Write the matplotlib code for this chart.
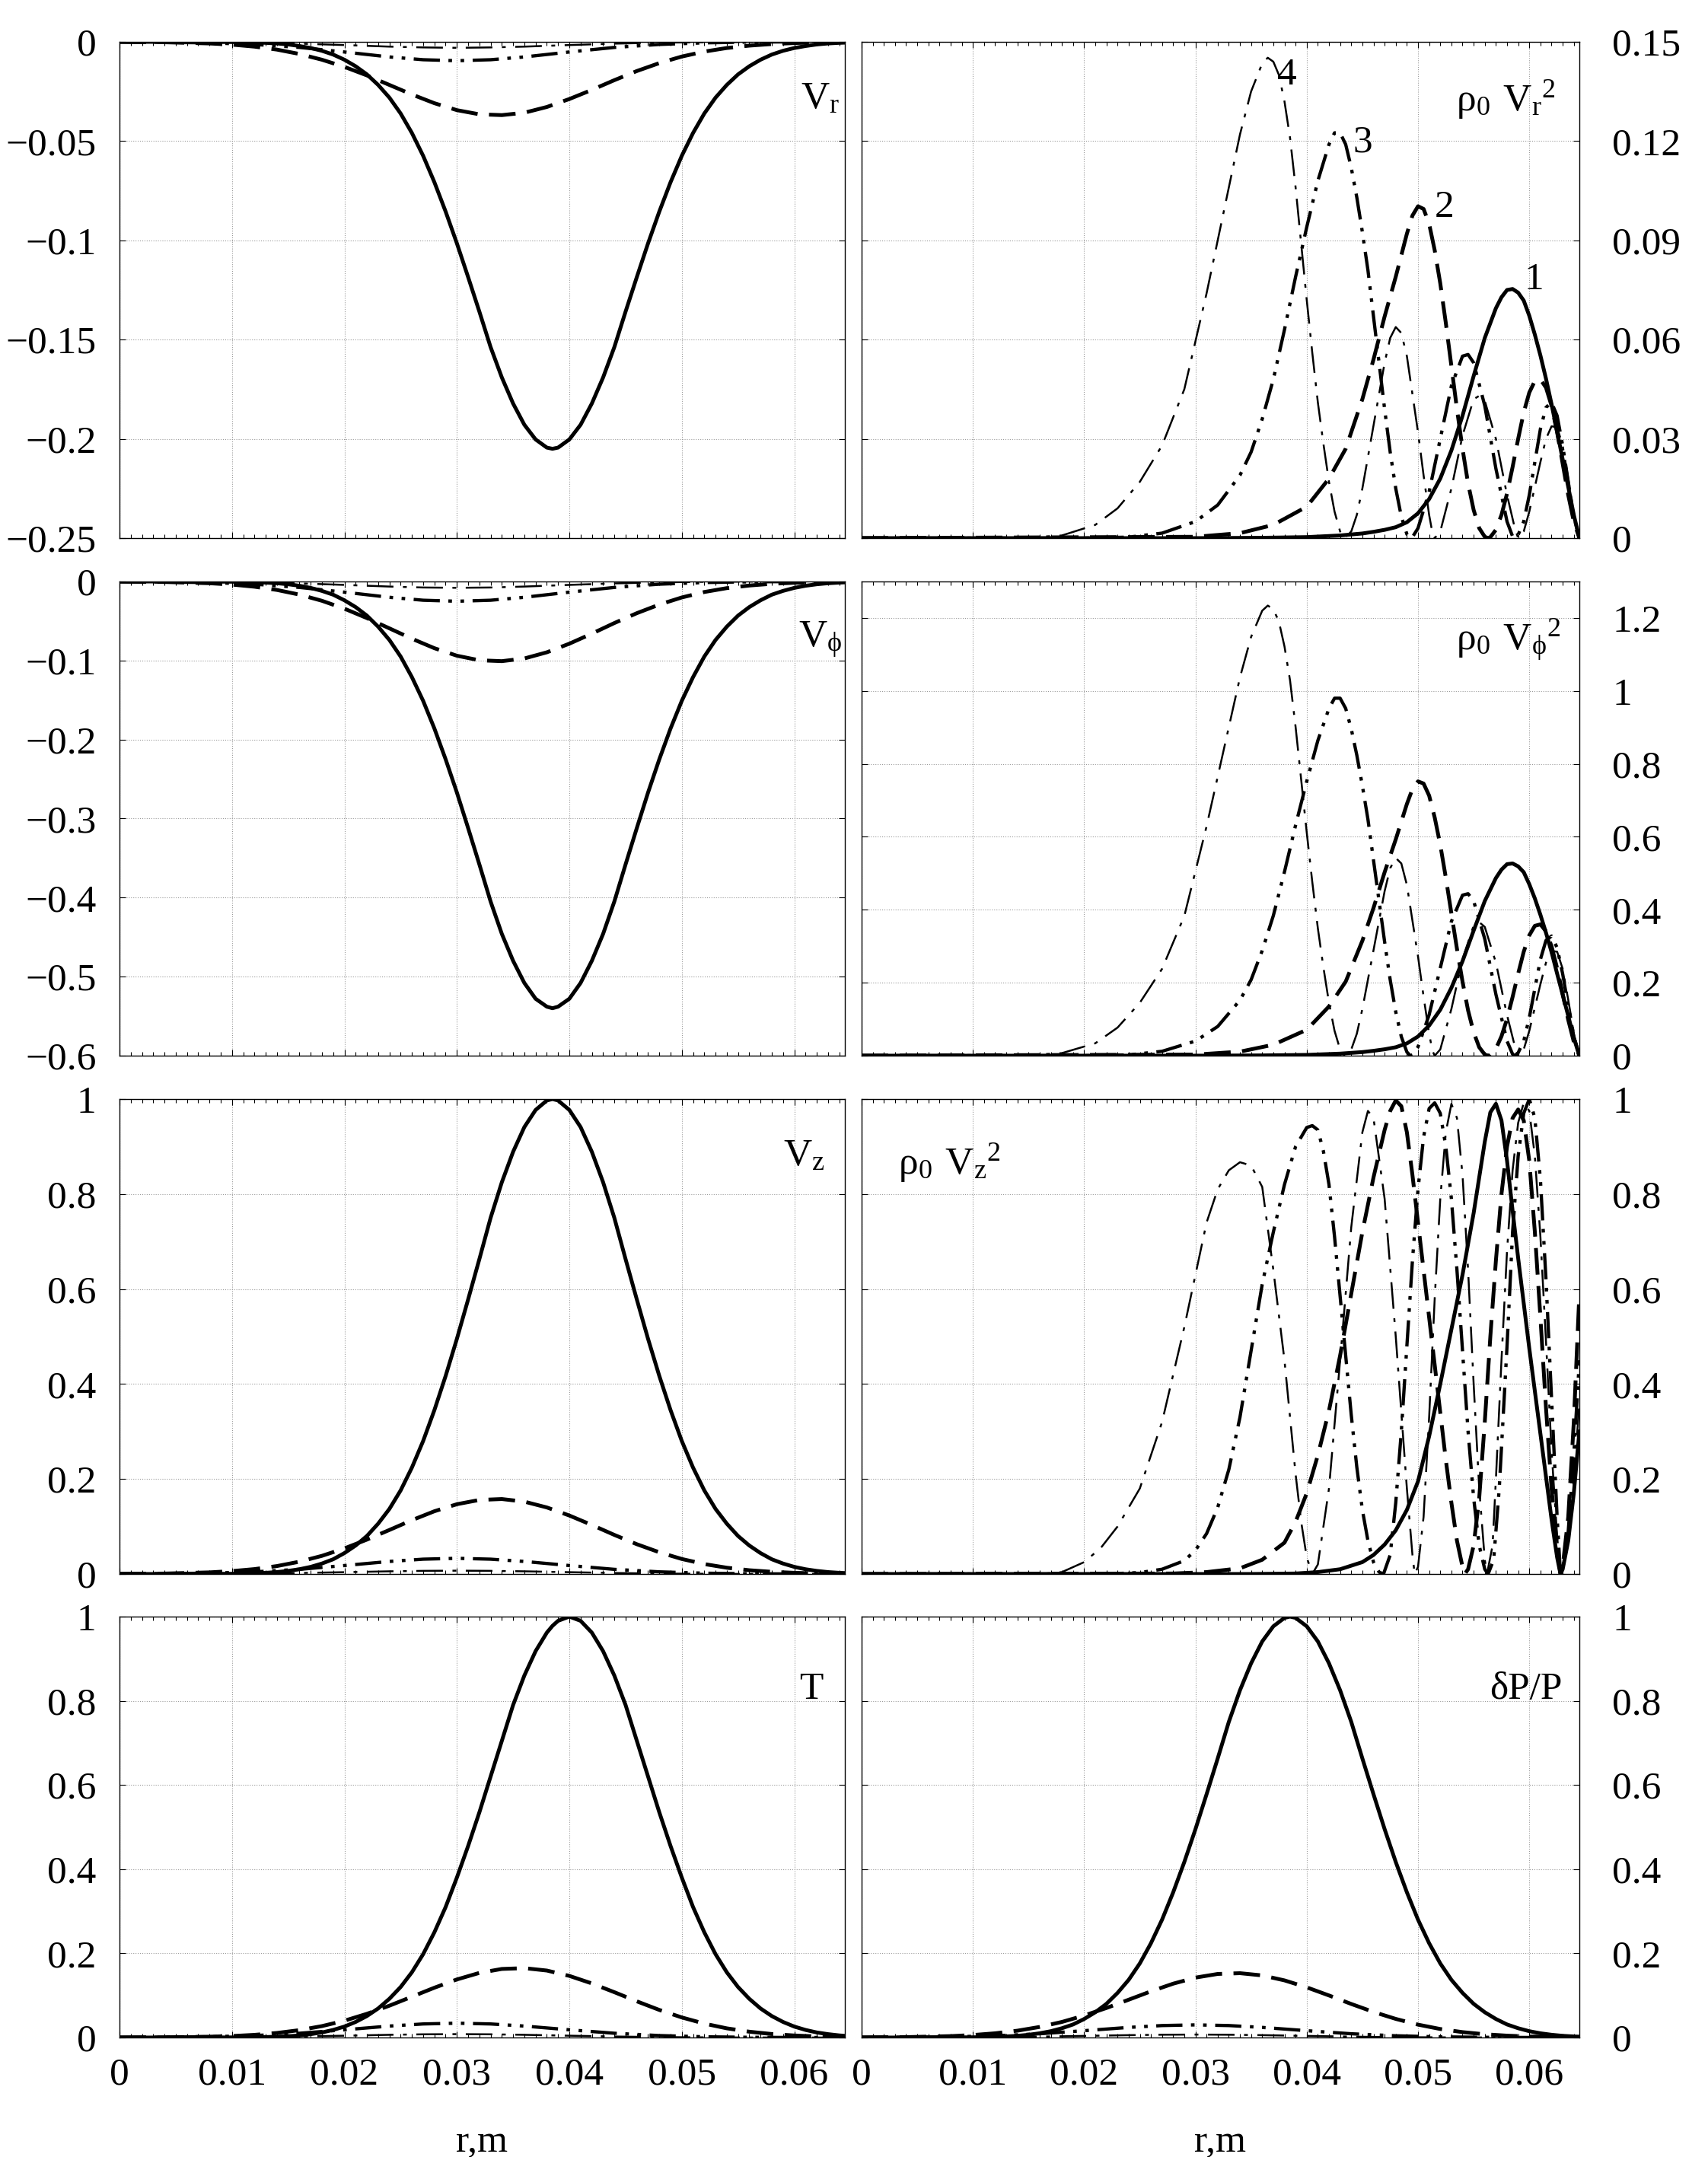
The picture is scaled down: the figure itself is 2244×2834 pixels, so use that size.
import matplotlib
matplotlib.use("Agg")
import matplotlib.pyplot as plt
from matplotlib.ticker import MultipleLocator, FixedLocator, FuncFormatter

plt.rcParams['font.family'] = ['Liberation Serif', 'DejaVu Serif']
plt.rcParams['mathtext.default'] = 'regular'

# ---------------- data: left column (and dP/P) ----------------
R_FINE = [0.0, 0.005, 0.010, 0.011, 0.012, 0.013, 0.014, 0.015, 0.016, 0.017, 0.018, 0.019,
          0.020, 0.021, 0.022, 0.023, 0.024, 0.025, 0.026, 0.027, 0.028, 0.029, 0.030, 0.031,
          0.032, 0.033, 0.034, 0.035, 0.036, 0.037, 0.038, 0.0385, 0.039, 0.040, 0.041, 0.042,
          0.043, 0.044, 0.045, 0.046, 0.047, 0.048, 0.049, 0.050, 0.051, 0.052, 0.053, 0.054,
          0.055, 0.056, 0.057, 0.058, 0.059, 0.060, 0.061, 0.062, 0.063, 0.064, 0.0645]

VR_1 = [0, 0, -0.0001, -0.0002, -0.0003, -0.0005, -0.0008, -0.0013, -0.0021, -0.0031, -0.0045,
        -0.0064, -0.0090, -0.0123, -0.0164, -0.0217, -0.0281, -0.0361, -0.0459, -0.0574, -0.0707,
        -0.0855, -0.1015, -0.1185, -0.1359, -0.1538, -0.1691, -0.1822, -0.1929, -0.2003, -0.2044,
        -0.2050,
        -0.2044, -0.2003, -0.1929, -0.1822, -0.1691, -0.1538, -0.1359, -0.1185, -0.1015, -0.0855,
        -0.0707, -0.0574, -0.0459, -0.0361, -0.0281, -0.0217, -0.0164, -0.0123, -0.0090, -0.0064,
        -0.0045, -0.0031, -0.0021, -0.0013, -0.0008, -0.0005, -0.0004]
VPHI_1 = [0, 0, -0.0003, -0.0004, -0.0008, -0.0014, -0.0022, -0.0035, -0.0054, -0.0081, -0.0119,
          -0.0167, -0.0238, -0.0324, -0.0432, -0.0572, -0.0740, -0.0950, -0.121, -0.151, -0.186,
          -0.225, -0.267, -0.312, -0.358, -0.405, -0.446, -0.480, -0.508, -0.528, -0.538,
          -0.540,
          -0.538, -0.528, -0.508, -0.480, -0.446, -0.405, -0.358, -0.312, -0.267, -0.225,
          -0.186, -0.151, -0.121, -0.0950, -0.0740, -0.0572, -0.0432, -0.0324, -0.0238, -0.0167,
          -0.0119, -0.0081, -0.0054, -0.0035, -0.0022, -0.0014, -0.0011]
VZ_1 = [0, 0, 0.0005, 0.0008, 0.0015, 0.0025, 0.004, 0.0065, 0.010, 0.015, 0.022, 0.031,
        0.044, 0.060, 0.080, 0.106, 0.137, 0.176, 0.224, 0.280, 0.345, 0.417, 0.495, 0.578,
        0.663, 0.750, 0.825, 0.889, 0.941, 0.977, 0.997,
        1.0,
        0.997, 0.977, 0.941, 0.889, 0.825, 0.750, 0.663, 0.578, 0.495, 0.417, 0.345, 0.280,
        0.224, 0.176, 0.137, 0.106, 0.080, 0.060, 0.044, 0.031, 0.022, 0.015, 0.010, 0.0065,
        0.004, 0.0025, 0.002]
T_1 = [0, 0, 0.0003, 0.0005, 0.0008, 0.001, 0.002, 0.003, 0.005, 0.008, 0.012, 0.018,
       0.026, 0.037, 0.051, 0.069, 0.092, 0.120, 0.155, 0.198, 0.250, 0.310, 0.380, 0.455,
       0.535, 0.620, 0.705, 0.790, 0.860, 0.918, 0.962,
       0.978,
       0.990, 1.0, 0.990, 0.962, 0.918, 0.860, 0.790, 0.705, 0.620, 0.535, 0.455, 0.380,
       0.310, 0.250, 0.198, 0.155, 0.120, 0.092, 0.069, 0.051, 0.037, 0.026, 0.018, 0.012,
       0.008, 0.005, 0.004]
DP_1 = [0, 0, 0.0005, 0.0008, 0.0015, 0.0025, 0.004, 0.0065, 0.010, 0.015, 0.022, 0.031,
        0.044, 0.060, 0.080, 0.106, 0.137, 0.176, 0.224, 0.280, 0.345, 0.417, 0.495, 0.578,
        0.663, 0.750, 0.825, 0.889, 0.941, 0.977, 0.997,
        1.0,
        0.997, 0.977, 0.941, 0.889, 0.825, 0.750, 0.663, 0.578, 0.495, 0.417, 0.345, 0.280,
        0.224, 0.176, 0.137, 0.106, 0.080, 0.060, 0.044, 0.031, 0.022, 0.015, 0.010, 0.0065,
        0.004, 0.0025, 0.002]

R_C = [0.0, 0.004, 0.008, 0.010, 0.012, 0.014, 0.016, 0.018, 0.020, 0.022, 0.024, 0.026, 0.028,
       0.030, 0.032, 0.034, 0.036, 0.038, 0.040, 0.042, 0.044, 0.046, 0.048, 0.050, 0.052, 0.054,
       0.056, 0.058, 0.060, 0.062, 0.064, 0.0645]
VR_2 = [-0.0000, -0.0002, -0.0008, -0.0014, -0.0024, -0.0039, -0.0061, -0.0090, -0.0126, -0.0169,
        -0.0217, -0.0265, -0.0309, -0.0344, -0.0365, -0.0369, -0.0357, -0.0328, -0.0288, -0.0242,
        -0.0193, -0.0147, -0.0107, -0.0074, -0.0049, -0.0031, -0.0019, -0.0011, -0.0006, -0.0003,
        -0.0002, -0.0001]
VPHI_2 = [-0.0001, -0.0006, -0.0022, -0.0039, -0.0066, -0.0107, -0.0166, -0.0244, -0.0344, -0.0463,
          -0.0593, -0.0724, -0.0844, -0.0939, -0.0997, -0.1008, -0.0974, -0.0896, -0.0787, -0.0660,
          -0.0526, -0.0401, -0.0292, -0.0202, -0.0133, -0.0084, -0.0051, -0.0029, -0.0016, -0.0008,
          -0.0004, -0.0003]
VZ_2 = [0.0002, 0.0009, 0.0034, 0.0061, 0.0103, 0.0167, 0.0259, 0.0382, 0.0539, 0.0724, 0.0927,
        0.1133, 0.1321, 0.1469, 0.1559, 0.1578, 0.1523, 0.1401, 0.1231, 0.1032, 0.0823, 0.0627,
        0.0457, 0.0316, 0.0209, 0.0132, 0.0079, 0.0046, 0.0025, 0.0013, 0.0006, 0.0005]
T_2 = [0.0001, 0.0005, 0.0019, 0.0035, 0.0063, 0.0108, 0.0175, 0.0271, 0.0399, 0.0563, 0.0756,
       0.0969, 0.1183, 0.1379, 0.1535, 0.1629, 0.1648, 0.1591, 0.1464, 0.1285, 0.1077, 0.0860,
       0.0655, 0.0477, 0.0330, 0.0218, 0.0138, 0.0083, 0.0048, 0.0026, 0.0014, 0.0011]
DP_2 = [0.0002, 0.0009, 0.0033, 0.0059, 0.0100, 0.0162, 0.0251, 0.0370, 0.0522, 0.0701, 0.0898,
        0.1097, 0.1279, 0.1423, 0.1510, 0.1528, 0.1475, 0.1357, 0.1192, 0.0999, 0.0797, 0.0607,
        0.0442, 0.0306, 0.0202, 0.0128, 0.0077, 0.0044, 0.0024, 0.0013, 0.0006, 0.0005]

R_S = [0.0, 0.008, 0.012, 0.016, 0.020, 0.024, 0.027, 0.030, 0.033, 0.036, 0.040, 0.044, 0.048,
       0.052, 0.056, 0.060, 0.0645]
VR_3 = [0.0, -0.0005, -0.0013, -0.0028, -0.0051, -0.0076, -0.0090, -0.0095, -0.0090, -0.0076,
        -0.0051, -0.0028, -0.0013, -0.0005, -0.0001, 0.0, 0.0]
VPHI_3 = [-0.0001, -0.0013, -0.0034, -0.0075, -0.0135, -0.0200, -0.0237, -0.0250, -0.0237, -0.0200,
          -0.0135, -0.0075, -0.0034, -0.0013, -0.0004, -0.0001, 0.0]
VZ_3 = [0.0001, 0.0017, 0.0045, 0.0098, 0.0178, 0.0264, 0.0312, 0.0330, 0.0312, 0.0264, 0.0178,
        0.0098, 0.0045, 0.0017, 0.0005, 0.0001, 0.0]
T_3 = [0.0001, 0.0017, 0.0046, 0.0101, 0.0183, 0.0272, 0.0322, 0.0340, 0.0322, 0.0272, 0.0183,
       0.0101, 0.0046, 0.0017, 0.0005, 0.0001, 0.0]
DP_3 = [0.0001, 0.0015, 0.0041, 0.0089, 0.0162, 0.0240, 0.0284, 0.0300, 0.0284, 0.0240, 0.0162,
        0.0089, 0.0041, 0.0015, 0.0005, 0.0001, 0.0]
VR_4 = [0.0, -0.0002, -0.0004, -0.0009, -0.0016, -0.0024, -0.0028, -0.0030, -0.0028, -0.0024,
        -0.0016, -0.0009, -0.0004, -0.0002, 0.0, 0.0, 0.0]
VPHI_4 = [0.0, -0.0004, -0.0011, -0.0024, -0.0043, -0.0064, -0.0076, -0.0080, -0.0076, -0.0064,
          -0.0043, -0.0024, -0.0011, -0.0004, -0.0001, 0.0, 0.0]
VZ_4 = [0.0, 0.0004, 0.0009, 0.0021, 0.0038, 0.0056, 0.0066, 0.0070, 0.0066, 0.0056, 0.0038,
        0.0021, 0.0009, 0.0004, 0.0001, 0.0, 0.0]
T_4 = [0.0, 0.0004, 0.0011, 0.0024, 0.0043, 0.0064, 0.0076, 0.0080, 0.0076, 0.0064, 0.0043,
       0.0024, 0.0011, 0.0004, 0.0001, 0.0, 0.0]
DP_4 = [0.0, 0.0004, 0.0009, 0.0021, 0.0038, 0.0056, 0.0066, 0.0070, 0.0066, 0.0056, 0.0038,
        0.0021, 0.0009, 0.0004, 0.0001, 0.0, 0.0]

# ---------------- data: rho0 Vr^2 and rho0 Vphi^2 ----------------
R_M1 = [0, 0.030, 0.036, 0.040, 0.043, 0.045, 0.046, 0.047, 0.048, 0.049, 0.050, 0.051, 0.052,
        0.053, 0.054, 0.055, 0.056, 0.057, 0.0575, 0.058, 0.0585, 0.059, 0.0595, 0.060, 0.0605,
        0.061, 0.0615, 0.062, 0.0625, 0.063, 0.0635, 0.064, 0.0645]
RVR_1 = [0, 0, 0.0001, 0.0003, 0.0008, 0.0014, 0.0019, 0.0025, 0.0033, 0.0048, 0.0075, 0.0118,
         0.0180, 0.0265, 0.0370, 0.0490, 0.0605, 0.0695, 0.0728, 0.0750, 0.0753, 0.0742, 0.0718,
         0.0672, 0.0615, 0.0552, 0.0482, 0.0405, 0.0322, 0.0238, 0.0155, 0.0070, 0.0]
RVPHI_1 = [0, 0, 0.0007, 0.0021, 0.0056, 0.0098, 0.0133, 0.0175, 0.0231, 0.0336, 0.0525, 0.0826,
           0.126, 0.186, 0.259, 0.343, 0.424, 0.487, 0.510, 0.525, 0.527, 0.519, 0.503, 0.470,
           0.431, 0.386, 0.337, 0.284, 0.225, 0.167, 0.109, 0.049, 0.0]

R_M2 = [0, 0.030, 0.034, 0.037, 0.040, 0.042, 0.0435, 0.045, 0.046, 0.047, 0.048, 0.049, 0.0495,
        0.050, 0.0505, 0.051, 0.0515, 0.052, 0.0525, 0.053, 0.0535, 0.054, 0.0545, 0.055, 0.0555,
        0.056, 0.0563, 0.0565, 0.057, 0.0575, 0.058, 0.0585, 0.059, 0.0595, 0.060, 0.0605, 0.061,
        0.0615, 0.062, 0.0625, 0.063, 0.0635, 0.064, 0.0645]
RVR_2 = [0, 0.0004, 0.0015, 0.0040, 0.0095, 0.0180, 0.0270, 0.0420, 0.0540, 0.0670, 0.0790,
         0.0920, 0.0975, 0.1003, 0.0995, 0.0950, 0.0870, 0.0770, 0.0650, 0.0520, 0.0390, 0.0270,
         0.0165, 0.0085, 0.0030, 0.0004, 0.0, 0.0003, 0.0025, 0.0070, 0.0135, 0.0215, 0.0300,
         0.0380, 0.0440, 0.0475, 0.0480, 0.0455, 0.0400, 0.0320, 0.0225, 0.0130, 0.0050, 0.0]
RVPHI_2 = [0, 0.003, 0.011, 0.030, 0.071, 0.135, 0.203, 0.315, 0.405, 0.503, 0.593, 0.690, 0.731,
           0.752, 0.746, 0.713, 0.653, 0.578, 0.488, 0.390, 0.293, 0.203, 0.124, 0.064, 0.023,
           0.003, 0.0, 0.002, 0.019, 0.053, 0.101, 0.161, 0.225, 0.285, 0.330, 0.356, 0.360,
           0.341, 0.300, 0.240, 0.169, 0.098, 0.038, 0.0]

R_M3 = [0, 0.020, 0.024, 0.027, 0.030, 0.032, 0.034, 0.035, 0.036, 0.037, 0.038, 0.039, 0.040,
        0.041, 0.042, 0.0425, 0.043, 0.0435, 0.044, 0.0445, 0.045, 0.0455, 0.046, 0.0465, 0.047,
        0.0475, 0.048, 0.0485, 0.049, 0.0493, 0.0495, 0.050, 0.051, 0.052, 0.053, 0.054, 0.0545,
        0.055, 0.056, 0.057, 0.058, 0.0585, 0.0587, 0.059, 0.0595, 0.060, 0.0605, 0.061, 0.0615,
        0.062, 0.0625, 0.063, 0.0635, 0.064, 0.0645]
RVR_3 = [0, 0, 0.0003, 0.0015, 0.0050, 0.0100, 0.0190, 0.0260, 0.0360, 0.0480, 0.0630, 0.0790,
         0.0940, 0.1080, 0.1190, 0.1225, 0.1225, 0.1190, 0.1120, 0.1030, 0.0925, 0.0810, 0.0670,
         0.0530, 0.0390, 0.0260, 0.0150, 0.0065, 0.0012, 0.0, 0.0003, 0.0030, 0.0140, 0.0300,
         0.0460, 0.0550, 0.0555, 0.0530, 0.0400, 0.0210, 0.0050, 0.0005, 0.0, 0.0010, 0.0050,
         0.0130, 0.0230, 0.0330, 0.0395, 0.0410, 0.0370, 0.0280, 0.0170, 0.0065, 0.0]
RVPHI_3 = [0, 0, 0.002, 0.012, 0.040, 0.080, 0.152, 0.208, 0.288, 0.384, 0.504, 0.632, 0.752,
           0.864, 0.952, 0.980, 0.980, 0.952, 0.896, 0.824, 0.740, 0.648, 0.536, 0.424, 0.312,
           0.208, 0.120, 0.052, 0.010, 0.0, 0.002, 0.024, 0.112, 0.240, 0.368, 0.440, 0.444,
           0.424, 0.320, 0.168, 0.040, 0.004, 0.0, 0.008, 0.040, 0.104, 0.184, 0.264, 0.316,
           0.328, 0.296, 0.224, 0.136, 0.052, 0.0]

R_M4 = [0, 0.014, 0.018, 0.021, 0.023, 0.025, 0.027, 0.029, 0.031, 0.032, 0.033, 0.034, 0.035,
        0.036, 0.0365, 0.037, 0.0375, 0.038, 0.0385, 0.039, 0.0395, 0.040, 0.0405, 0.041, 0.0415,
        0.042, 0.0425, 0.043, 0.0434, 0.044, 0.0445, 0.045, 0.046, 0.047, 0.0475, 0.048, 0.0485,
        0.049, 0.050, 0.0505, 0.051, 0.0513, 0.0515, 0.052, 0.053, 0.054, 0.055, 0.0555, 0.056,
        0.057, 0.058, 0.0587, 0.059, 0.0595, 0.060, 0.061, 0.0615, 0.062, 0.0625, 0.063, 0.0635,
        0.064, 0.0645]
RVR_4 = [0, 0, 0.0008, 0.0040, 0.0090, 0.0170, 0.0280, 0.0450, 0.0740, 0.0900, 0.1060, 0.1220,
         0.1350, 0.1435, 0.1452, 0.1440, 0.1400, 0.1320, 0.1210, 0.1060, 0.0890, 0.0720, 0.0560,
         0.0410, 0.0285, 0.0170, 0.0080, 0.0020, 0.0, 0.0020, 0.0070, 0.0150, 0.0340, 0.0530,
         0.0605, 0.0638, 0.0620, 0.0550, 0.0320, 0.0190, 0.0070, 0.0015, 0.0, 0.0020, 0.0150,
         0.0310, 0.0420, 0.0430, 0.0415, 0.0300, 0.0130, 0.0030, 0.0, 0.0020, 0.0080, 0.0230,
         0.0300, 0.0338, 0.0335, 0.0280, 0.0180, 0.0075, 0.0]
RVPHI_4 = [0, 0, 0.007, 0.034, 0.077, 0.145, 0.238, 0.383, 0.629, 0.765, 0.901, 1.037, 1.148,
           1.220, 1.234, 1.224, 1.190, 1.122, 1.029, 0.901, 0.757, 0.612, 0.476, 0.349, 0.242,
           0.145, 0.068, 0.017, 0.0, 0.017, 0.060, 0.128, 0.289, 0.451, 0.514, 0.542, 0.527,
           0.468, 0.272, 0.162, 0.060, 0.013, 0.0, 0.017, 0.128, 0.264, 0.357, 0.366, 0.353,
           0.255, 0.111, 0.026, 0.0, 0.017, 0.068, 0.196, 0.255, 0.287, 0.285, 0.238, 0.153,
           0.064, 0.0]

# ---------------- data: rho0 Vz^2 ----------------
RZ_M1 = [0, 0.035, 0.039, 0.041, 0.043, 0.045, 0.046, 0.047, 0.048, 0.049, 0.050, 0.051, 0.052,
         0.053, 0.054, 0.055, 0.0555, 0.056, 0.0565, 0.057, 0.0575, 0.058, 0.0585, 0.059, 0.0595,
         0.060, 0.0605, 0.061, 0.0615, 0.062, 0.0625, 0.0628, 0.063, 0.0635, 0.064, 0.0645]
RVZ_1 = [0, 0, 0.001, 0.004, 0.010, 0.025, 0.040, 0.062, 0.092, 0.135, 0.195, 0.290, 0.400, 0.515,
         0.630, 0.760, 0.835, 0.910, 0.972, 0.990, 0.955, 0.870, 0.765, 0.665, 0.570, 0.475,
         0.385, 0.295, 0.205, 0.115, 0.035, 0.0, 0.010, 0.070, 0.170, 0.300]
RZ_M2 = [0.0, 0.028, 0.031, 0.034, 0.036, 0.038, 0.039, 0.040, 0.041, 0.042, 0.043, 0.044, 0.045,
         0.046, 0.047, 0.0475, 0.048, 0.0485, 0.049, 0.0495, 0.050, 0.0505, 0.051, 0.0515, 0.052,
         0.0525, 0.053, 0.0535, 0.054, 0.0542, 0.0545, 0.055, 0.0555, 0.056, 0.0565, 0.057,
         0.0575, 0.058, 0.0585, 0.059, 0.0595, 0.060, 0.0605, 0.061, 0.0615, 0.062, 0.0625,
         0.0628, 0.063, 0.0635, 0.064, 0.0645]
RVZ_2 = [0.0, 0.001, 0.004, 0.012, 0.030, 0.066, 0.110, 0.170, 0.250, 0.344, 0.460, 0.590, 0.720,
         0.835, 0.935, 0.975, 0.997, 0.985, 0.930, 0.840, 0.740, 0.640, 0.540, 0.440, 0.340,
         0.240, 0.150, 0.070, 0.015, 0.0, 0.010, 0.060, 0.160, 0.320, 0.500, 0.660, 0.800,
         0.900, 0.960, 0.978, 0.955, 0.870, 0.720, 0.540, 0.350, 0.180, 0.055, 0.0, 0.015,
         0.120, 0.320, 0.590]
RZ_M3 = [0.0, 0.022, 0.025, 0.027, 0.029, 0.030, 0.031, 0.032, 0.033, 0.034, 0.035, 0.036, 0.037,
         0.038, 0.039, 0.040, 0.0405, 0.041, 0.0415, 0.042, 0.0425, 0.043, 0.0435, 0.044, 0.0445,
         0.045, 0.0455, 0.046, 0.0465, 0.0469, 0.0475, 0.048, 0.0485, 0.049, 0.0495, 0.050,
         0.0505, 0.051, 0.0515, 0.052, 0.0525, 0.053, 0.0535, 0.054, 0.0545, 0.055, 0.0555,
         0.056, 0.0563, 0.0568, 0.0573, 0.058, 0.0585, 0.059, 0.0595, 0.060, 0.0605, 0.061,
         0.0615, 0.062, 0.0625, 0.0628, 0.063, 0.0635, 0.064, 0.0645]
RVZ_3 = [0.0, 0.0, 0.003, 0.010, 0.028, 0.050, 0.085, 0.140, 0.220, 0.330, 0.470, 0.610, 0.720,
         0.820, 0.900, 0.940, 0.944, 0.935, 0.890, 0.820, 0.710, 0.585, 0.460, 0.335, 0.225,
         0.135, 0.070, 0.025, 0.004, 0.0, 0.040, 0.150, 0.300, 0.480, 0.660, 0.810, 0.920,
         0.980, 0.992, 0.970, 0.900, 0.790, 0.640, 0.470, 0.300, 0.160, 0.060, 0.010, 0.0,
         0.030, 0.180, 0.480, 0.720, 0.880, 0.970, 1.000, 0.960, 0.830, 0.620, 0.370, 0.120,
         0.0, 0.010, 0.090, 0.250, 0.450]
RZ_M4 = [0.0, 0.016, 0.018, 0.020, 0.0215, 0.023, 0.025, 0.027, 0.029, 0.031, 0.032, 0.033, 0.034,
         0.035, 0.036, 0.037, 0.038, 0.039, 0.0395, 0.040, 0.0405, 0.041, 0.042, 0.043, 0.044,
         0.045, 0.0455, 0.046, 0.047, 0.048, 0.049, 0.0495, 0.0497, 0.050, 0.0505, 0.051, 0.0515,
         0.052, 0.0525, 0.053, 0.0535, 0.054, 0.0545, 0.055, 0.0555, 0.056, 0.0562, 0.0567,
         0.057, 0.0575, 0.058, 0.0585, 0.059, 0.0595, 0.060, 0.0605, 0.061, 0.0615, 0.062,
         0.0625, 0.0628, 0.063, 0.0635, 0.064, 0.0645]
RVZ_4 = [0.0, 0.0, 0.004, 0.025, 0.055, 0.100, 0.180, 0.320, 0.520, 0.740, 0.810, 0.850, 0.867,
         0.860, 0.815, 0.640, 0.450, 0.210, 0.110, 0.035, 0.0, 0.020, 0.180, 0.450, 0.730, 0.930,
         0.975, 0.960, 0.790, 0.500, 0.180, 0.040, 0.0, 0.015, 0.120, 0.330, 0.580, 0.790,
         0.930, 0.990, 0.960, 0.840, 0.640, 0.400, 0.180, 0.030, 0.0, 0.060, 0.200, 0.450,
         0.680, 0.850, 0.950, 0.992, 0.975, 0.880, 0.710, 0.490, 0.260, 0.080, 0.0, 0.008,
         0.070, 0.200, 0.360]

X_LABEL = "r,m"
CURVE_LABELS = ["1", "2", "3", "4"]
CURVE_LABEL_POS = [(0.0604, 0.0780), (0.0524, 0.1000), (0.0450, 0.1195), (0.0382, 0.1399)]

# ---------------- styles ----------------
STYLE = {
    1: dict(ls='-', lw=3.6),
    2: dict(ls=(0, (7, 3)), lw=3.6),
    3: dict(ls=(0, (8, 2.6, 1.1, 2.6, 1.1, 2.6)), lw=3.1),
    4: dict(ls=(0, (14, 5, 2, 5)), lw=1.8),
}
FS = 37
W, H = 2244, 2834
COLS = [(157, 1110), (1132, 2075)]
ROWS = [(55, 707), (764, 1387), (1444, 2068), (2124, 2677)]


def fmt(v, pos):
    if abs(v) < 1e-12:
        return "0"
    return ("%g" % round(v, 6)).replace("-", "\u2212")


fig = plt.figure(figsize=(W / 100, H / 100), dpi=100)


def make_axes(col, row):
    x0, x1 = COLS[col]
    y0, y1 = ROWS[row]
    return fig.add_axes([x0 / W, 1 - y1 / H, (x1 - x0) / W, (y1 - y0) / H])


def setup(ax, ylim, yticks, side, bottom):
    ax.set_xlim(0, 0.0645)
    ax.set_ylim(*ylim)
    ax.xaxis.set_major_locator(MultipleLocator(0.01))
    ax.xaxis.set_minor_locator(MultipleLocator(0.001))
    ax.yaxis.set_major_locator(FixedLocator(yticks))
    ax.xaxis.set_major_formatter(FuncFormatter(fmt))
    ax.yaxis.set_major_formatter(FuncFormatter(fmt))
    ax.tick_params(which='both', direction='in', top=True, bottom=True, left=True, right=True,
                   width=0.8, labelsize=FS)
    ax.tick_params(which='major', length=6)
    ax.tick_params(which='minor', length=3.5)
    if side == 'left':
        ax.tick_params(axis='y', labelleft=True, labelright=False, pad=22)
    else:
        ax.tick_params(axis='y', labelleft=False, labelright=True, pad=31)
    ax.tick_params(axis='x', labelbottom=bottom, pad=19)
    ax.grid(True, which='major', ls=':', lw=0.8, color='#9a9a9a')
    for s in ax.spines.values():
        s.set_linewidth(1.0)


def draw(ax, curves):
    for mode, r, v in curves:
        ax.plot(r, v, color='black', **STYLE[mode])


def label(ax, x, y, s):
    ax.text(x, y, s, transform=ax.transAxes, fontsize=FS, ha='left', va='baseline', zorder=5)


# row 1
ax = make_axes(0, 0)
setup(ax, (-0.25, 0), [-0.25, -0.2, -0.15, -0.1, -0.05, 0], 'left', False)
draw(ax, [(4, R_S, VR_4), (3, R_S, VR_3), (2, R_C, VR_2), (1, R_FINE, VR_1)])
label(ax, 0.939, 0.866, r'$V_r$')

ax = make_axes(1, 0)
setup(ax, (0, 0.15), [0, 0.03, 0.06, 0.09, 0.12, 0.15], 'right', False)
draw(ax, [(4, R_M4, RVR_4), (3, R_M3, RVR_3), (2, R_M2, RVR_2), (1, R_M1, RVR_1)])
label(ax, 0.828, 0.862, r'$\rho_0\ V_r{}^2$')
for lab, (lx, ly) in zip(CURVE_LABELS, CURVE_LABEL_POS):
    ax.text(lx, ly, lab, fontsize=FS, ha='center', va='center')

# row 2
ax = make_axes(0, 1)
setup(ax, (-0.6, 0), [-0.6, -0.5, -0.4, -0.3, -0.2, -0.1, 0], 'left', False)
draw(ax, [(4, R_S, VPHI_4), (3, R_S, VPHI_3), (2, R_C, VPHI_2), (1, R_FINE, VPHI_1)])
label(ax, 0.936, 0.862, r'$V_\phi$')

ax = make_axes(1, 1)
setup(ax, (0, 1.3), [0, 0.2, 0.4, 0.6, 0.8, 1.0, 1.2], 'right', False)
draw(ax, [(4, R_M4, RVPHI_4), (3, R_M3, RVPHI_3), (2, R_M2, RVPHI_2), (1, R_M1, RVPHI_1)])
label(ax, 0.828, 0.855, r'$\rho_0\ V_\phi{}^2$')

# row 3
ax = make_axes(0, 2)
setup(ax, (0, 1), [0, 0.2, 0.4, 0.6, 0.8, 1.0], 'left', False)
draw(ax, [(4, R_S, VZ_4), (3, R_S, VZ_3), (2, R_C, VZ_2), (1, R_FINE, VZ_1)])
label(ax, 0.915, 0.861, r'$V_z$')

ax = make_axes(1, 2)
setup(ax, (0, 1), [0, 0.2, 0.4, 0.6, 0.8, 1.0], 'right', False)
draw(ax, [(4, RZ_M4, RVZ_4), (3, RZ_M3, RVZ_3), (2, RZ_M2, RVZ_2), (1, RZ_M1, RVZ_1)])
label(ax, 0.051, 0.842, r'$\rho_0\ V_z{}^2$')

# row 4
ax = make_axes(0, 3)
setup(ax, (0, 1), [0, 0.2, 0.4, 0.6, 0.8, 1.0], 'left', True)
draw(ax, [(4, R_S, T_4), (3, R_S, T_3), (2, R_C, T_2), (1, R_FINE, T_1)])
label(ax, 0.937, 0.805, 'T')

ax = make_axes(1, 3)
setup(ax, (0, 1), [0, 0.2, 0.4, 0.6, 0.8, 1.0], 'right', True)
draw(ax, [(4, R_S, DP_4), (3, R_S, DP_3), (2, R_C, DP_2), (1, R_FINE, DP_1)])
label(ax, 0.875, 0.805, '\u03b4P/P')

for x0, x1 in COLS:
    fig.text((x0 + x1) / 2 / W, 1 - 2815 / H, X_LABEL, fontsize=FS, ha='center', va='center')

fig.savefig("out.png", dpi=100)
